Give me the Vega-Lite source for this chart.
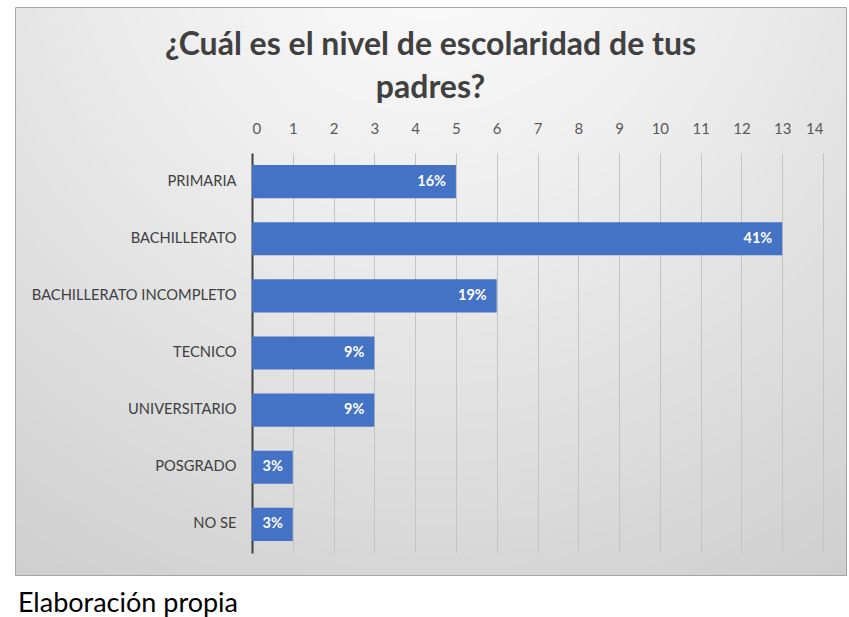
{
  "$schema": "https://vega.github.io/schema/vega-lite/v6.json",
  "width": 831,
  "height": 568,
  "autosize": {"type": "none"},
  "padding": {"left": 15, "top": 7, "right": 3, "bottom": 42},
  "background": "#ffffff",
  "config": {
    "font": "Lato",
    "view": {
      "stroke": "#a6a6a6",
      "strokeWidth": 1,
      "fill": {
        "gradient": "radial",
        "x1": 0.5, "y1": 0.05, "r1": 0,
        "x2": 0.5, "y2": 0.05, "r2": 1,
        "stops": [
          {"offset": 0, "color": "#fdfdfd"},
          {"offset": 0.4, "color": "#ebebeb"},
          {"offset": 1, "color": "#cbcbcb"}
        ]
      }
    }
  },
  "title": {
    "text": ["¿Cuál es el nivel de escolaridad de tus", "padres?"],
    "orient": "top",
    "anchor": "middle",
    "frame": "group",
    "offset": -98,
    "font": "Lato",
    "fontSize": 32,
    "fontWeight": "bold",
    "color": "#404040",
    "lineHeight": 43
  },
  "datasets": {
    "escolaridad": [
      {"categoria": "PRIMARIA", "valor": 5, "etiqueta": "16%"},
      {"categoria": "BACHILLERATO", "valor": 13, "etiqueta": "41%"},
      {"categoria": "BACHILLERATO INCOMPLETO", "valor": 6, "etiqueta": "19%"},
      {"categoria": "TECNICO", "valor": 3, "etiqueta": "9%"},
      {"categoria": "UNIVERSITARIO", "valor": 3, "etiqueta": "9%"},
      {"categoria": "POSGRADO", "valor": 1, "etiqueta": "3%"},
      {"categoria": "NO SE", "valor": 1, "etiqueta": "3%"}
    ]
  },
  "layer": [
    {
      "data": {"name": "escolaridad"},
      "encoding": {
        "y": {
          "field": "categoria",
          "type": "nominal",
          "sort": null,
          "scale": {"range": [146, 546], "paddingInner": 0.42, "paddingOuter": 0.21},
          "axis": {
            "orient": "left",
            "offset": -237,
            "title": null,
            "domain": true,
            "domainColor": "#404040",
            "domainWidth": 2,
            "ticks": false,
            "tickSize": 0,
            "grid": false,
            "labelPadding": 16,
            "labelFont": "Lato",
            "labelFontSize": 14.7,
            "labelColor": "#404040",
            "labelLimit": 400
          }
        },
        "x": {
          "field": "valor",
          "type": "quantitative",
          "scale": {"domain": [0, 14], "range": [237, 808], "nice": false},
          "axis": {
            "orient": "top",
            "offset": -146,
            "title": null,
            "domain": false,
            "ticks": false,
            "tickSize": 0,
            "grid": true,
            "gridColor": "#c4c4c4",
            "gridWidth": 1,
            "tickCount": 14,
            "labelPadding": 17,
            "labelFont": "Lato",
            "labelFontSize": 15,
            "labelColor": "#595959"
          }
        }
      },
      "layer": [
        {"mark": {"type": "bar", "color": "#4472C4"}},
        {
          "mark": {"type": "text", "align": "right", "baseline": "middle", "dx": -10, "color": "#ffffff", "font": "Lato", "fontWeight": "bold", "fontSize": 14.5},
          "encoding": {"text": {"field": "etiqueta"}}
        }
      ]
    },
    {
      "data": {"values": [{}]},
      "mark": {"type": "text", "text": "Elaboración propia", "align": "left", "baseline": "alphabetic", "font": "Lato", "fontSize": 27, "color": "#000000"},
      "encoding": {
        "x": {"datum": -5.74, "type": "quantitative", "scale": {"domain": [0, 14], "range": [237, 808], "nice": false}},
        "y": {"datum": -0.1475, "type": "quantitative", "scale": {"domain": [0, 1], "range": [546, 146], "nice": false, "zero": false}, "axis": null}
      }
    }
  ],
  "resolve": {"scale": {"y": "independent"}, "axis": {"y": "independent"}}
}
